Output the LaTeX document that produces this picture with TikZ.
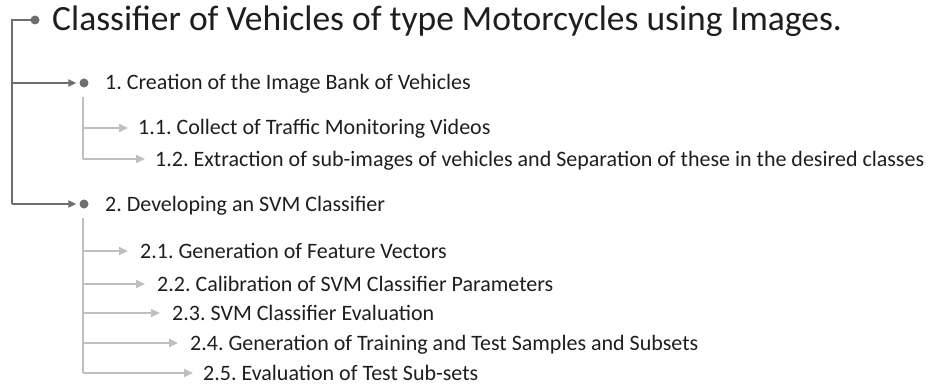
\documentclass[tikz,border=0pt]{standalone}
\usepackage{fontspec}
\setmainfont{Carlito}
\usetikzlibrary{arrows.meta,calc}
\definecolor{trunkgray}{HTML}{6E6E6E}
\definecolor{branchgray}{HTML}{BFBFBF}
\definecolor{inkgray}{HTML}{1E1E1E}
\tikzset{
  bullet/.style={circle,fill=trunkgray,inner sep=0pt,minimum size=9pt},
  trunk/.style={draw=trunkgray,line width=2pt},
  trunkarrow/.style={trunk,-{Triangle[length=8pt,width=7pt]},shorten >=3pt},
  branch/.style={draw=branchgray,line width=2pt,-{Triangle[length=9pt,width=8pt]}},
  titletext/.style={anchor=west,inner sep=0pt,text height=21pt,text depth=0pt,
    font=\fontsize{35.5pt}{40pt}\selectfont,text=inkgray},
  itemtext/.style={anchor=west,inner sep=0pt,text height=14pt,text depth=0pt,
    font=\fontsize{22pt}{26pt}\selectfont,text=inkgray},
}
\begin{document}
\frenchspacing
\begin{tikzpicture}[x=1pt,y=-1pt]
  \useasboundingbox (0,0) rectangle (931,385);

  % top-level bullets and labels
  \node[bullet] (d0) at (35,20) {};
  \node[titletext] (t0) at (52,20) {Classifier of Vehicles of type Motorcycles using Images.};
  \node[bullet] (d1) at (84,83) {};
  \node[itemtext] (t1) at (105,83) {1. Creation of the Image Bank of Vehicles};
  \node[bullet] (d2) at (84,204) {};
  \node[itemtext] (t2) at (105,204) {2. Developing an SVM Classifier};

  % trunk on the left
  \coordinate (trunk) at (12,20);
  \draw[trunk] (d0.center) -- (trunk) -- (trunk |- d2);
  \draw[trunkarrow] (trunk |- d1) -- (d1.west);
  \draw[trunkarrow] (trunk |- d2) -- (d2.west);

  % second-level labels
  \node[itemtext] (t11) at (138,128) {1.1. Collect of Traffic Monitoring Videos};
  \node[itemtext] (t12) at (155,159) {1.2. Extraction of sub-images of vehicles and Separation of these in the desired classes};
  \node[itemtext] (t21) at (140,251) {2.1. Generation of Feature Vectors};
  \node[itemtext] (t22) at (157,284) {2.2. Calibration of SVM Classifier Parameters};
  \node[itemtext] (t23) at (172,313) {2.3. SVM Classifier Evaluation};
  \node[itemtext] (t24) at (190,343) {2.4. Generation of Training and Test Samples and Subsets};
  \node[itemtext] (t25) at (203,373) {2.5. Evaluation of Test Sub-sets};

  % branches under item 1
  \coordinate (s1) at (83,97);
  \draw[draw=branchgray,line width=2pt] (s1) -- (s1 |- t12);
  \draw[branch] (s1 |- t11) -- ([xshift=-10pt]t11.west);
  \draw[branch] (s1 |- t12) -- ([xshift=-10pt]t12.west);

  % branches under item 2
  \coordinate (s2) at (83,218);
  \draw[draw=branchgray,line width=2pt] (s2) -- (s2 |- t25);
  \draw[branch] (s2 |- t21) -- ([xshift=-12pt]t21.west);
  \draw[branch] (s2 |- t22) -- ([xshift=-12pt]t22.west);
  \draw[branch] (s2 |- t23) -- ([xshift=-12pt]t23.west);
  \draw[branch] (s2 |- t24) -- ([xshift=-12pt]t24.west);
  \draw[branch] (s2 |- t25) -- ([xshift=-10pt]t25.west);
\end{tikzpicture}
\end{document}
